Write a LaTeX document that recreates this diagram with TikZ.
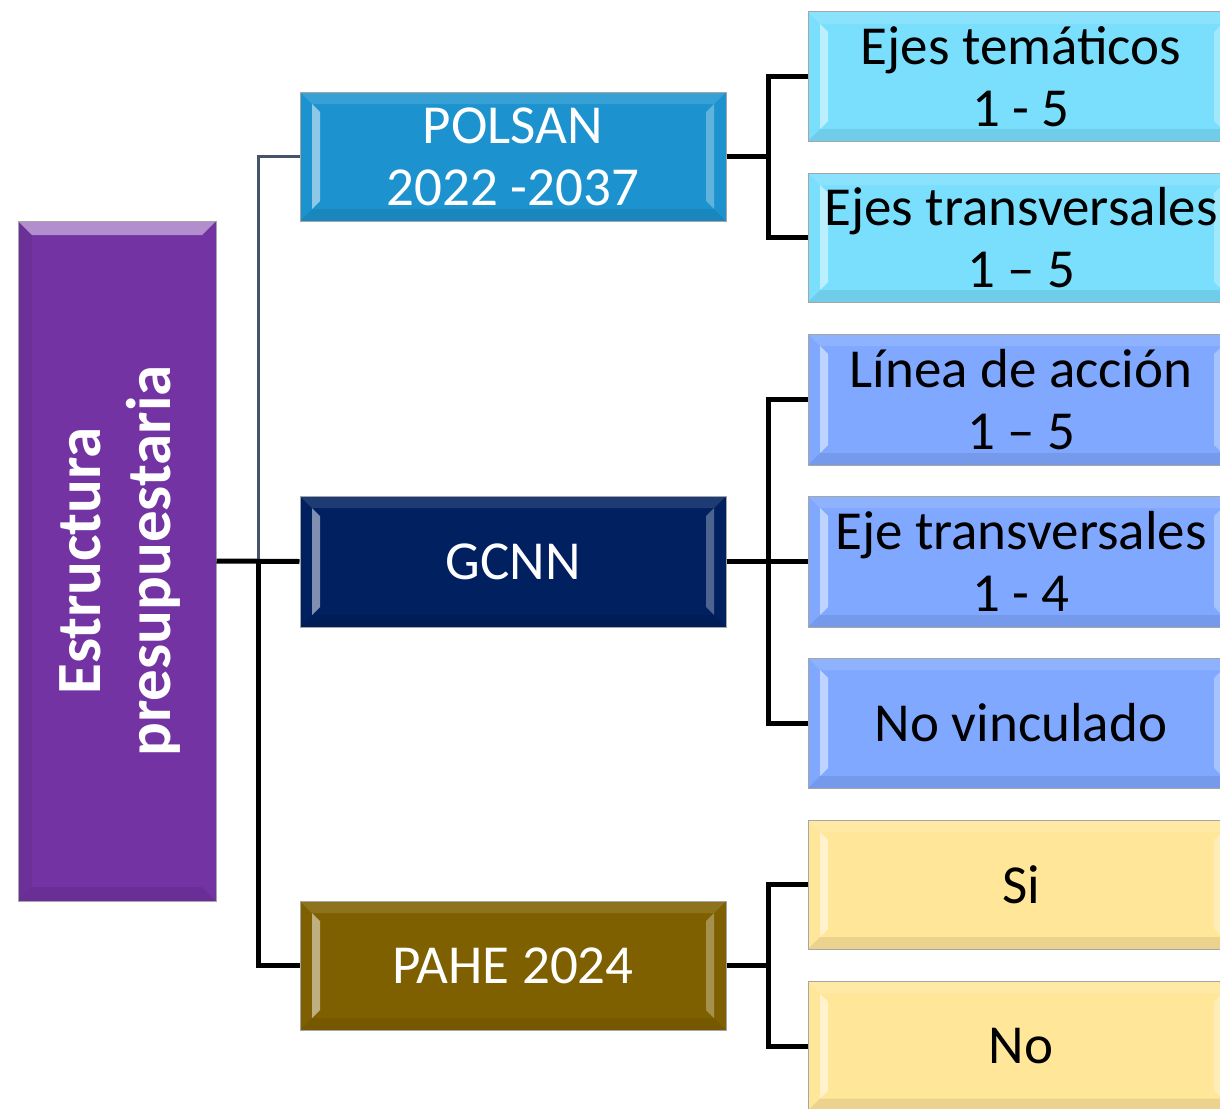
\documentclass[tikz,border=0pt]{standalone}
\usepackage{fontspec}
\setmainfont{Carlito}
\usetikzlibrary{positioning}

\definecolor{rootpurple}{HTML}{7333A3}
\definecolor{polsanblue}{HTML}{1C93CF}
\definecolor{gcnnnavy}{HTML}{002060}
\definecolor{pahebrown}{HTML}{7F6000}
\definecolor{ejecyan}{HTML}{7ADFFD}
\definecolor{lineablue}{HTML}{80A8FF}
\definecolor{siyellow}{HTML}{FFE699}
\definecolor{linkgray}{HTML}{44546A}

\tikzset{
  bevel/.style={path picture={
    \fill[white,opacity=.5] ([shift={(12pt,12pt)}]path picture bounding box.south west) -- ([shift={(12pt,-12pt)}]path picture bounding box.north west) -- ([shift={(20pt,-20pt)}]path picture bounding box.north west) -- ([shift={(20pt,20pt)}]path picture bounding box.south west) -- cycle;
    \fill[white,opacity=.3] ([shift={(-12pt,12pt)}]path picture bounding box.south east) -- ([shift={(-12pt,-12pt)}]path picture bounding box.north east) -- ([shift={(-20pt,-20pt)}]path picture bounding box.north east) -- ([shift={(-20pt,20pt)}]path picture bounding box.south east) -- cycle;
    \fill[black,opacity=.08] (path picture bounding box.south west) -- ([shift={(12pt,12pt)}]path picture bounding box.south west) -- ([shift={(-12pt,12pt)}]path picture bounding box.south east) -- (path picture bounding box.south east) -- cycle;
    \fill[white,opacity=.12] (path picture bounding box.north west) -- ([shift={(12pt,-12pt)}]path picture bounding box.north west) -- ([shift={(-12pt,-12pt)}]path picture bounding box.north east) -- (path picture bounding box.north east) -- cycle;
  }},
  bevelv/.style={path picture={
    \fill[white,opacity=.45] (path picture bounding box.north west) -- ([shift={(14pt,-14pt)}]path picture bounding box.north west) -- ([shift={(-14pt,-14pt)}]path picture bounding box.north east) -- (path picture bounding box.north east) -- cycle;
    \fill[black,opacity=.08] (path picture bounding box.south west) -- ([shift={(14pt,14pt)}]path picture bounding box.south west) -- ([shift={(-14pt,14pt)}]path picture bounding box.south east) -- (path picture bounding box.south east) -- cycle;
    \fill[black,opacity=.06] (path picture bounding box.north west) -- ([shift={(14pt,-14pt)}]path picture bounding box.north west) -- ([shift={(14pt,14pt)}]path picture bounding box.south west) -- (path picture bounding box.south west) -- cycle;
  }},
  box/.style={draw=gray!70, line width=1pt, minimum width=426pt, minimum height=129pt,
    inner sep=0pt, align=center, font=\fontsize{55}{62}\selectfont, bevel},
  midbox/.style={box, text=white},
  leafbox/.style={box, text=black},
  link/.style={line width=5pt, black},
  thinlink/.style={line width=2.5pt, linkgray}
}

\begin{document}
\begin{tikzpicture}[x=1pt,y=-1pt]
  \useasboundingbox (0,0) rectangle (1220,1108);
  \clip (0,0) rectangle (1220,1108);

  % root
  \node[draw=gray!70, line width=1pt, fill=rootpurple, minimum width=198pt,
        minimum height=680pt, inner sep=0pt, bevelv] (root) at (117,561) {};
  \node[rotate=90, text=white, align=center,
        font=\fontsize{63}{70}\selectfont\bfseries] (roottext) at (120,561)
        {Estructura\\presupuestaria};

  % middle level
  \node[midbox, fill=polsanblue] (polsan) at (513,156.5) {POLSAN\\2022 -2037};
  \node[midbox, fill=gcnnnavy, minimum height=131pt] (gcnn) at (513,561.5) {GCNN};
  \node[midbox, fill=pahebrown] (pahe) at (513,965.5) {PAHE 2024};

  % leaves
  \node[leafbox, fill=ejecyan] (t1) at (1021,76.5) {Ejes temáticos\\1 - 5};
  \node[leafbox, fill=ejecyan] (t2) at (1021,237.5) {Ejes transversales\\1 – 5};
  \node[leafbox, fill=lineablue, minimum height=131pt] (l1) at (1021,399.5) {Línea de acción\\1 – 5};
  \node[leafbox, fill=lineablue, minimum height=131pt] (l2) at (1021,561.5) {Eje transversales\\1 - 4};
  \node[leafbox, fill=lineablue, minimum height=130pt] (l3) at (1021,723) {No vinculado};
  \node[leafbox, fill=siyellow] (s1) at (1021,884.5) {Si};
  \node[leafbox, fill=siyellow] (s2) at (1021,1046) {No};

  % connectors
  \coordinate (lj) at ([xshift=42pt]root.east);
  \draw[thinlink] (lj) |- (polsan.west);
  \draw[link] (root.east) -- (gcnn.west);
  \draw[link] (lj) |- (pahe.west);
  \foreach \p/\c in {polsan/t1, polsan/t2, gcnn/l1, gcnn/l2, gcnn/l3, pahe/s1, pahe/s2}
    \draw[link] (\p.east) -- ++(42,0) |- (\c.west);
\end{tikzpicture}
\end{document}
